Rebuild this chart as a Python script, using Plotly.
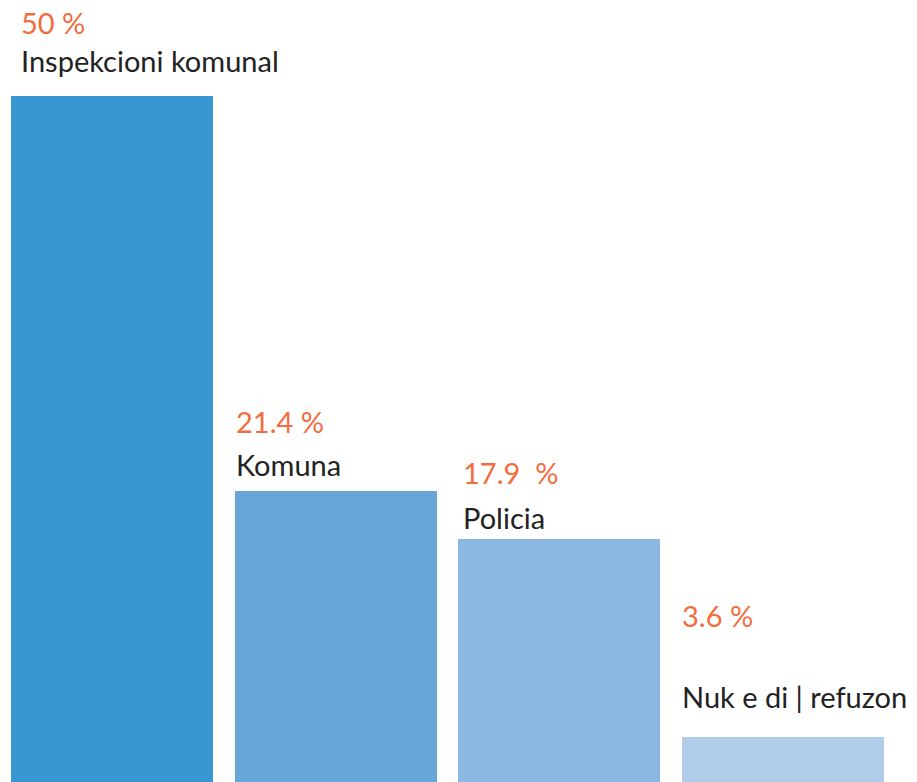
import plotly.graph_objects as go

categories = ["Inspekcioni komunal", "Komuna", "Policia", "Nuk e di | refuzon"]
values = [50, 21.4, 17.9, 3.6]
pct_labels = ["50 %", "21.4 %", "17.9\u00a0 %", "3.6 %"]

colors = ["#3897d3", "#66a7d8", "#8bb8e2", "#b0cce9"]
# label offsets above bar top (pixels, to text middle)
pct_shift = [73, 69, 67, 121]
cat_shift = [35, 26, 22, 40]
x_shift = [8, -1, 3, -2]

bar_w = 0.903
xs = list(range(len(categories)))

fig = go.Figure()
fig.add_trace(go.Bar(x=xs, y=values, width=bar_w, marker=dict(color=colors, line=dict(width=0)),
                     hoverinfo="skip"))

font_family = "Lato, 'Noto Sans', sans-serif"
for i, (c, v, p) in enumerate(zip(categories, values, pct_labels)):
    fig.add_annotation(x=i - bar_w / 2, y=v, xref="x", yref="y", text=p, showarrow=False,
                       xanchor="left", yanchor="middle", yshift=pct_shift[i], xshift=x_shift[i],
                       font=dict(family=font_family, size=29, color="#f26d3d"))
    fig.add_annotation(x=i - bar_w / 2, y=v, xref="x", yref="y", text=c, showarrow=False,
                       xanchor="left", yanchor="middle", yshift=cat_shift[i], xshift=x_shift[i],
                       font=dict(family=font_family, size=29, color="#222222"))

fig.update_layout(
    width=917, height=782,
    margin=dict(l=0, r=0, t=0, b=0),
    paper_bgcolor="white", plot_bgcolor="white",
    showlegend=False,
    xaxis=dict(range=[-0.5007, 3.598], visible=False),
    yaxis=dict(range=[0.33, 56.95], visible=False),
    bargap=0,
)
fig.write_html("out.html", config={"displayModeBar": False},
               post_script="document.body.style.margin='0';document.body.style.overflow='hidden';")
